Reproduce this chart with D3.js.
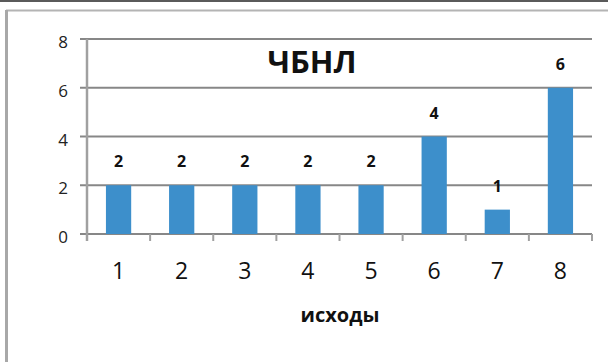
<!DOCTYPE html>
<html>
<head>
<meta charset="utf-8">
<script src="https://cdn.jsdelivr.net/npm/d3@7"></script>
<style>
  body { margin: 0; background: #fff; }
  svg { display: block; font-family: 'Open Sans', 'Noto Sans', sans-serif; }
</style>
</head>
<body>
<div id="chart"></div>
<script>
const categories = ['1', '2', '3', '4', '5', '6', '7', '8'];
const values = [2, 2, 2, 2, 2, 4, 1, 6];
const yTicks = [0, 2, 4, 6, 8];
const chartTitle = 'ЧБНЛ';
const xTitle = 'исходы';

const W = 608, H = 362;
const plot = { left: 87, right: 592, top: 39, bottom: 234 };

const svg = d3.select('#chart').append('svg')
    .attr('width', W)
    .attr('height', H);

// outer frame bits
svg.append('rect').attr('x', 0).attr('y', 0).attr('width', W).attr('height', 2).attr('fill', '#5a5a5a');
svg.append('line')
    .attr('x1', 6).attr('x2', W).attr('y1', 10.5).attr('y2', 10.5)
    .attr('stroke', '#b4b4b4').attr('stroke-width', 2);
svg.append('line')
    .attr('x1', 6.5).attr('x2', 6.5).attr('y1', 10).attr('y2', H)
    .attr('stroke', '#a8a8a8').attr('stroke-width', 3);

const x = d3.scaleBand()
    .domain(categories)
    .range([plot.left, plot.right])
    .paddingInner(0.6)
    .paddingOuter(0.3);

const xTicks = d3.scaleBand().domain(categories).range([plot.left, plot.right]);

const y = d3.scaleLinear().domain([0, 8]).range([plot.bottom, plot.top]);

// gridlines
svg.append('g')
    .selectAll('line')
    .data(yTicks)
    .join('line')
    .attr('x1', plot.left - 7)
    .attr('x2', plot.right)
    .attr('y1', d => y(d))
    .attr('y2', d => y(d))
    .attr('stroke', '#878787')
    .attr('stroke-width', 1.8);

// y axis line
svg.append('line')
    .attr('x1', plot.left).attr('x2', plot.left)
    .attr('y1', plot.top).attr('y2', plot.bottom + 7)
    .attr('stroke', '#a0a0a0').attr('stroke-width', 2.5);

// x tick marks
svg.append('g')
    .selectAll('line')
    .data(categories.slice(1).concat(['end']))
    .join('line')
    .attr('x1', d => d === 'end' ? plot.right : xTicks(d))
    .attr('x2', d => d === 'end' ? plot.right : xTicks(d))
    .attr('y1', plot.bottom)
    .attr('y2', plot.bottom + 7)
    .attr('stroke', '#a0a0a0')
    .attr('stroke-width', 2);

// y labels
svg.append('g')
    .selectAll('text')
    .data(yTicks)
    .join('text')
    .attr('x', 68)
    .attr('y', d => y(d) + 9)
    .attr('text-anchor', 'end')
    .style('font-size', '17px')
    .attr('fill', '#222')
    .text(d => d);

// bars
svg.append('g')
    .selectAll('rect')
    .data(values)
    .join('rect')
    .attr('x', (d, i) => x(categories[i]))
    .attr('y', d => y(d))
    .attr('width', x.bandwidth())
    .attr('height', d => y(0) - y(d))
    .attr('fill', '#3d8fcb');

// data labels
svg.append('g')
    .selectAll('text')
    .data(values)
    .join('text')
    .attr('x', (d, i) => x(categories[i]) + x.bandwidth() / 2)
    .attr('y', d => y(d) - 18)
    .attr('text-anchor', 'middle')
    .style('font-size', '16px')
    .style('font-weight', 'bold')
    .attr('fill', '#111')
    .text(d => d);

// x labels
svg.append('g')
    .selectAll('text')
    .data(categories)
    .join('text')
    .attr('x', d => xTicks(d) + xTicks.bandwidth() / 2)
    .attr('y', 279)
    .attr('text-anchor', 'middle')
    .style('font-size', '23px')
    .attr('fill', '#111')
    .text(d => d);

svg.append('text')
    .attr('x', 312)
    .attr('y', 73)
    .attr('text-anchor', 'middle')
    .style('font-size', '31px')
    .style('font-weight', 'bold')
    .attr('fill', '#111')
    .text(chartTitle);

svg.append('text')
    .attr('x', 340)
    .attr('y', 322)
    .attr('text-anchor', 'middle')
    .style('font-size', '20px')
    .style('font-weight', 'bold')
    .attr('fill', '#111')
    .text(xTitle);
</script>
</body>
</html>
